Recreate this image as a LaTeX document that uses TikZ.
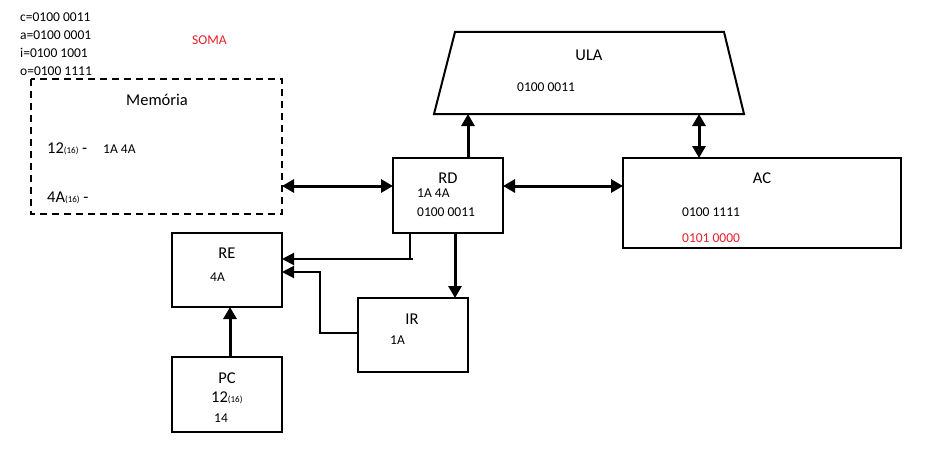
\documentclass[tikz,border=0pt]{standalone}
\usepackage{fontspec}
\setmainfont{Carlito}
\usetikzlibrary{arrows.meta}
\definecolor{redtxt}{RGB}{230,30,40}
\tikzset{
  box/.style={draw,line width=2pt},
  big/.style={font=\fontsize{16.5}{18}\selectfont},
  sm/.style={font=\fontsize{13.5}{15}\selectfont},
  thickarr/.style={line width=3pt,-{Triangle[length=12pt,width=13pt]}},
  thickdbl/.style={line width=3pt,{Triangle[length=12pt,width=13pt]}-{Triangle[length=12pt,width=13pt]}},
  thinarr/.style={line width=2pt,-{Triangle[length=12pt,width=12pt]}},
  thinline/.style={line width=2pt},
  txt/.style={inner sep=0pt,anchor=west}
}
\begin{document}
\begin{tikzpicture}[x=1pt,y=-1pt]
\useasboundingbox (0,0) rectangle (944,460);
% legend
\node[txt,sm] (lc) at (20,17) {c=0100 0011};
\node[txt,sm] (la) at (20,35) {a=0100 0001};
\node[txt,sm] (li) at (20,53) {i=0100 1001};
\node[txt,sm] (lo) at (20,71) {o=0100 1111};
\node[txt,sm,text=redtxt] (soma) at (192,40) {SOMA};
% memory
\draw[line width=2pt,dash pattern=on 7pt off 5pt] (31,79) rectangle (282,214);
\coordinate (memR) at (282,186);
\node[big,inner sep=0pt] (memt) at (157,100) {Memória};
\node[txt,big] (m12) at (47,149) {12{\fontsize{9}{10}\selectfont(16)} -};
\node[txt,sm] (m1a) at (103,149) {1A 4A};
\node[txt,big] (m4a) at (47,198) {4A{\fontsize{9}{10}\selectfont(16)} -};
% ULA
\draw[box] (455,32) coordinate (ulaTL) -- (724,32) -- (744,114) -- (434,114) -- cycle;
\coordinate (ulaB1) at (468,114);
\coordinate (ulaB2) at (699,114);
\node[big,inner sep=0pt] (ulat) at (589,55) {ULA};
\node[txt,sm] (ulav) at (517,87) {0100 0011};
% RD
\draw[box] (393,158) rectangle (503,233);
\node[big,inner sep=0pt] (rdt) at (448,178) {RD};
\node[txt,sm] (rd1) at (417,193) {1A 4A};
\node[txt,sm] (rd2) at (417,212) {0100 0011};
\coordinate (rdL) at (393,186);
\coordinate (rdR) at (503,186);
\coordinate (rdT) at (468,158);
\coordinate (rdB1) at (410,233);
\coordinate (rdB2) at (455,233);
% AC
\draw[box] (623,158) rectangle (901,248);
\node[big,inner sep=0pt] (act) at (762,178) {AC};
\node[txt,sm] (ac1) at (682,212) {0100 1111};
\node[txt,sm,text=redtxt] (ac2) at (682,238) {0101 0000};
\coordinate (acL) at (623,186);
\coordinate (acT) at (699,158);
% RE
\draw[box] (172,233) rectangle (282,307);
\node[big,inner sep=0pt] (ret) at (227,253) {RE};
\node[txt,sm] (rev) at (210,277) {4A};
\coordinate (reR1) at (282,259);
\coordinate (reR2) at (282,272);
\coordinate (reB) at (230,307);
% PC
\draw[box] (172,357) rectangle (282,432);
\node[big,inner sep=0pt] (pct) at (227,378) {PC};
\node[txt,big] (pc12) at (211,398) {12{\fontsize{9}{10}\selectfont(16)}};
\node[txt,sm] (pc14) at (214,418) {14};
\coordinate (pcT) at (230,357);
% IR
\draw[box] (358,298) rectangle (468,372);
\node[big,inner sep=0pt] (irt) at (412,319) {IR};
\node[txt,sm] (irv) at (390,340) {1A};
\coordinate (irL) at (358,333);
\coordinate (irT) at (455,298);
% connectors
\draw[thickdbl] (memR) -- (rdL);
\draw[thickdbl] (rdR) -- (acL);
\draw[thickarr] (rdT) -- (ulaB1);
\draw[thickdbl] (acT) -- (ulaB2);
\draw[thickarr] (pcT) -- (reB);
\draw[thickarr] (rdB2) -- (irT);
\coordinate (c1) at (410,259);
\coordinate (c1e) at (413,259);
\draw[thinline] (rdB1) -- (c1) -- (c1e);
\draw[thinarr] (c1e) -- (reR1);
\draw[thinarr] (irL) -- (320,333) -- (320,272) -- (reR2);
\end{tikzpicture}
\end{document}
